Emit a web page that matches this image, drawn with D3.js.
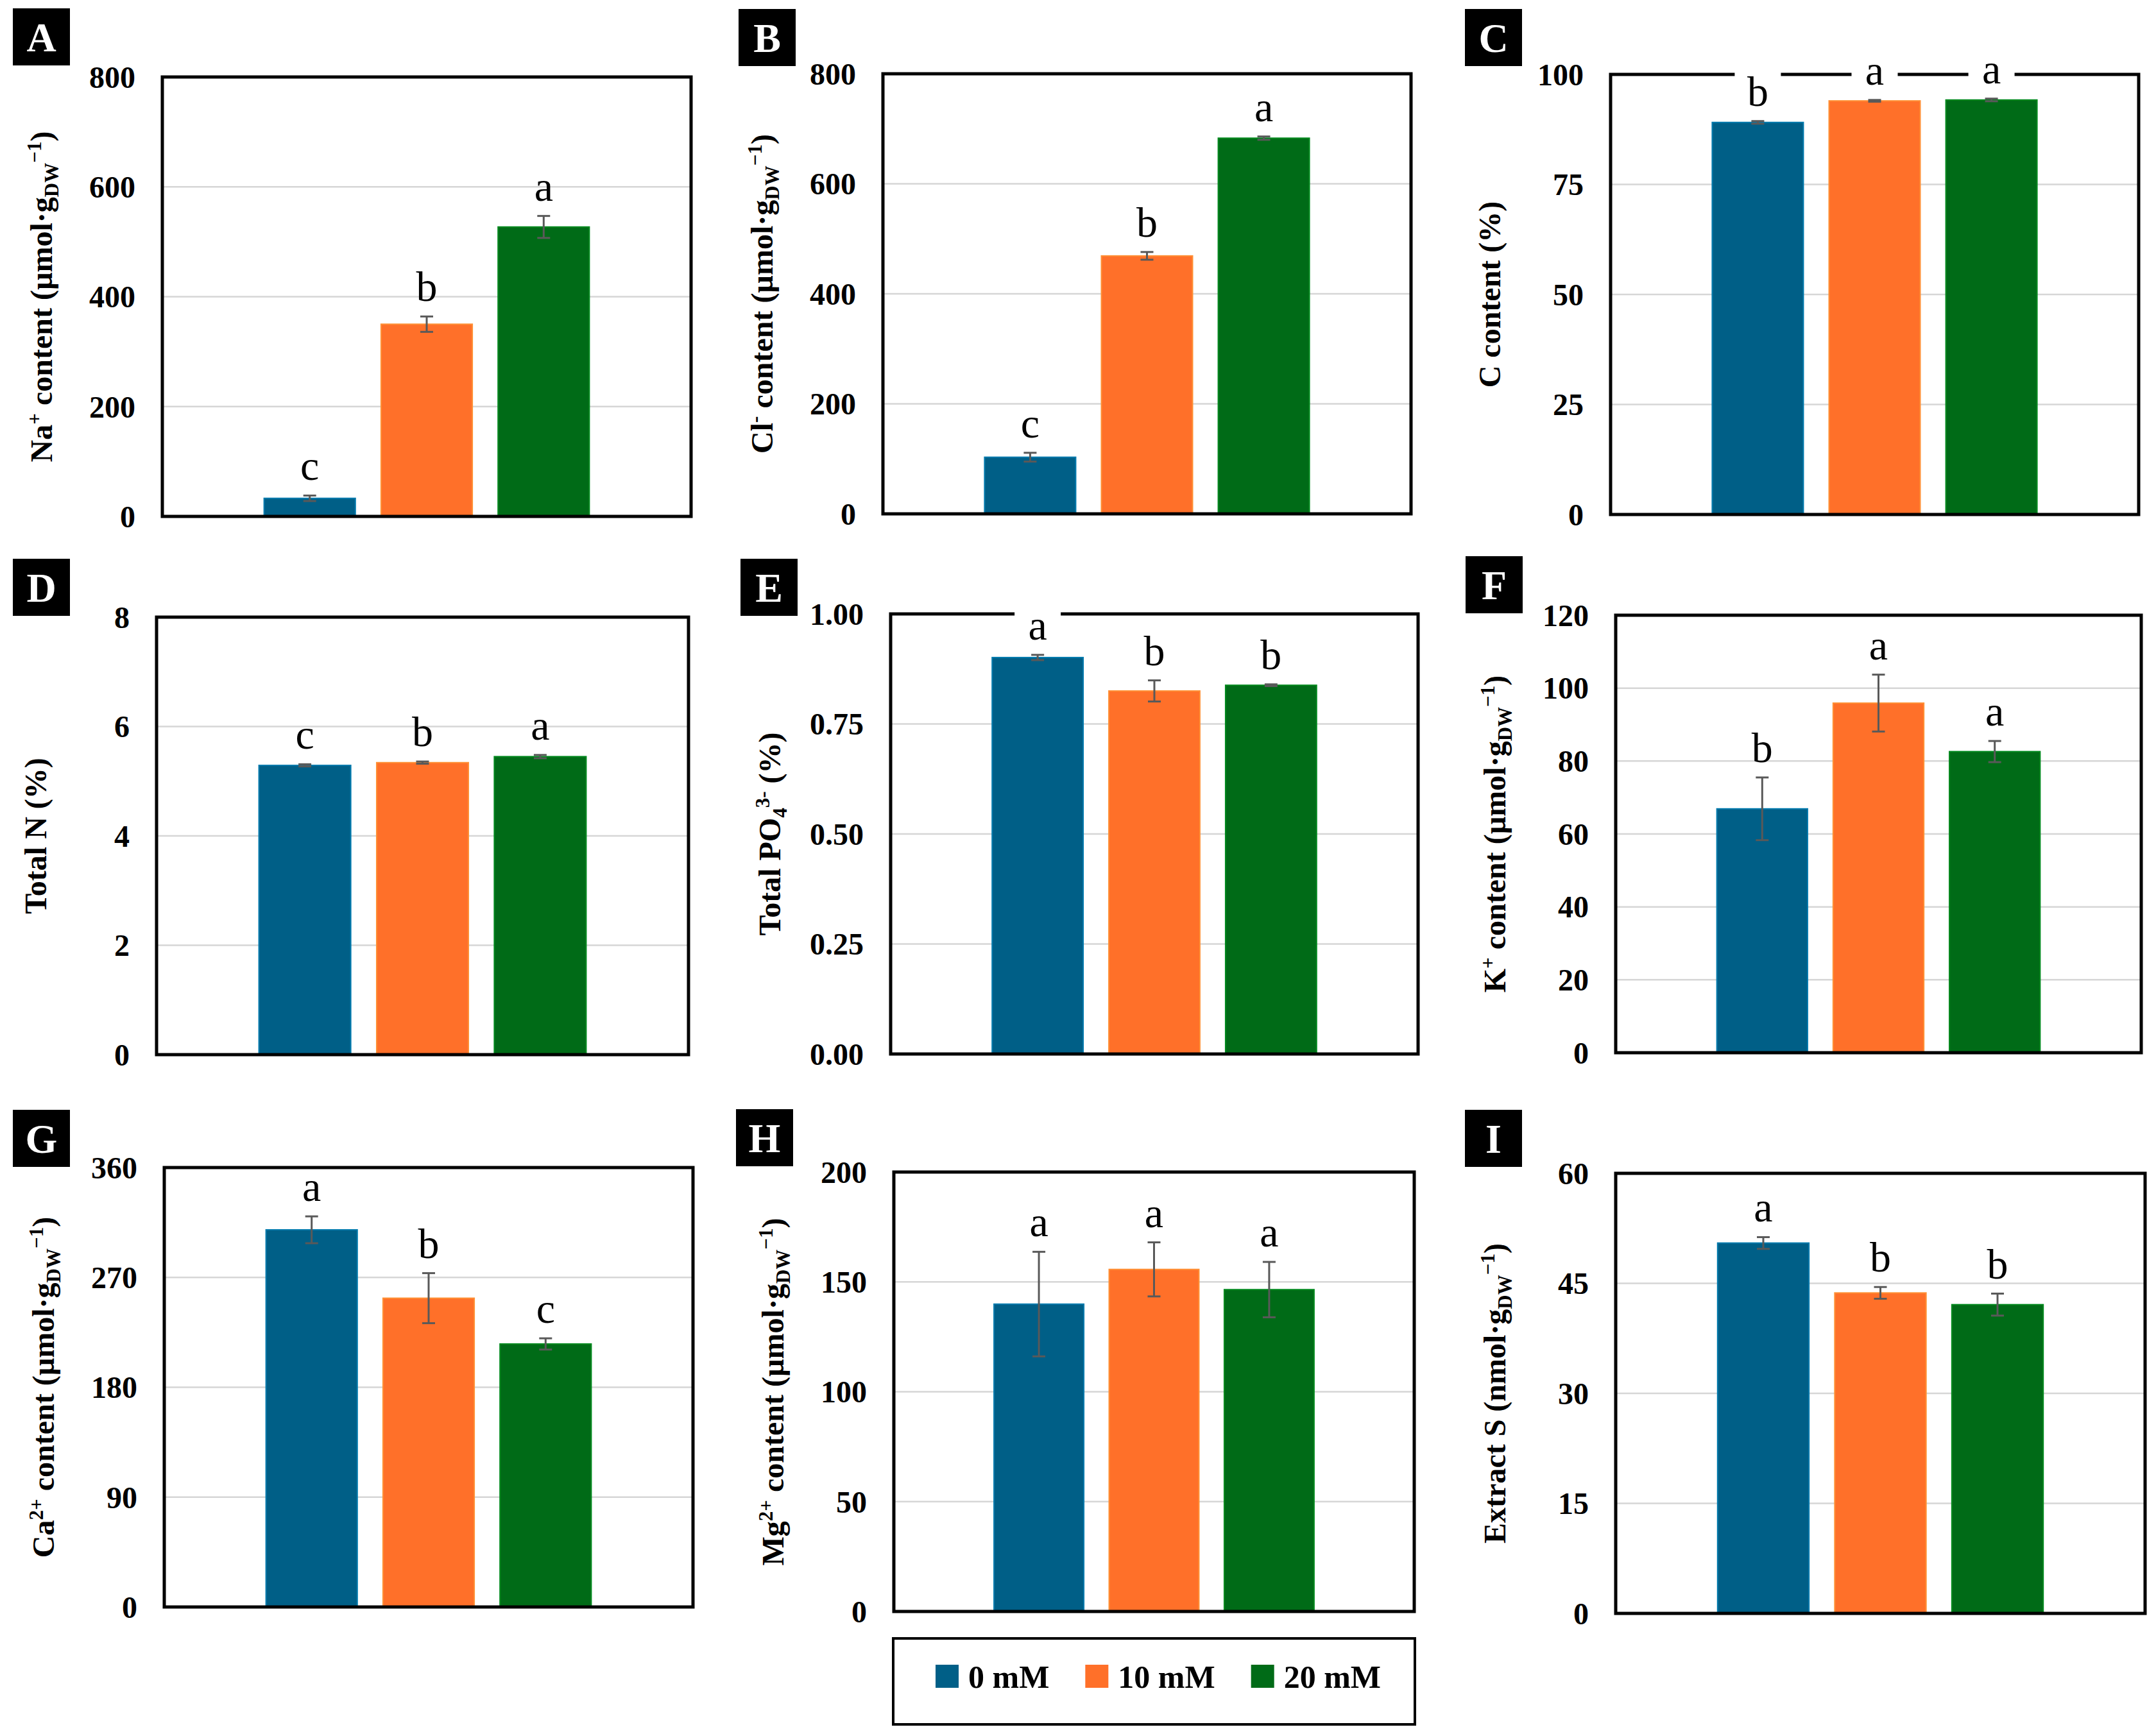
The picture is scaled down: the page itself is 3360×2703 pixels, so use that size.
<!DOCTYPE html>
<html>
<head>
<meta charset="utf-8">
<script src="https://cdn.jsdelivr.net/npm/d3@7"></script>
<style>
  body { margin: 0; background: #fff; }
  svg { display: block; }
</style>
</head>
<body>
<script>
// treatments
var series = ["0 mM", "10 mM", "20 mM"];
var colors = ["#005f87", "#ff7029", "#006b17"];

// means and error bars
var naMean = [33, 350, 527],        naErr = [5, 14, 20],        naLetters = ["c", "b", "a"];
var clMean = [103, 469, 683],       clErr = [8, 7, 3],          clLetters = ["c", "b", "a"];
var cMean  = [89.1, 94.0, 94.2],    cErr  = [0.3, 0.2, 0.3],    cLetters  = ["b", "a", "a"];
var nMean  = [5.29, 5.34, 5.45],    nErr  = [0.02, 0.02, 0.03], nLetters  = ["c", "b", "a"];
var pMean  = [0.901, 0.825, 0.838], pErr  = [0.006, 0.024, 0.002], pLetters = ["a", "b", "b"];
var kMean  = [66.9, 95.9, 82.6],    kErr  = [8.6, 7.8, 2.9],    kLetters  = ["b", "a", "a"];
var caMean = [309, 253, 215.5],     caErr = [11, 20.5, 4.6],    caLetters = ["a", "b", "c"];
var mgMean = [139.9, 155.7, 146.5], mgErr = [23.8, 12.3, 12.6], mgLetters = ["a", "a", "a"];
var sMean  = [50.5, 43.7, 42.1],    sErr  = [0.8, 0.8, 1.5],    sLetters  = ["a", "b", "b"];

// y axis ticks
var naTicks = [0, 200, 400, 600, 800];
var clTicks = [0, 200, 400, 600, 800];
var cTicks  = [0, 25, 50, 75, 100];
var nTicks  = [0, 2, 4, 6, 8];
var pTicks  = [0, 0.25, 0.5, 0.75, 1];
var kTicks  = [0, 20, 40, 60, 80, 100, 120];
var caTicks = [0, 90, 180, 270, 360];
var mgTicks = [0, 50, 100, 150, 200];
var sTicks  = [0, 15, 30, 45, 60];

// axis titles: [text, "n" normal | "sup" | "sub"]
var unitTail = [[" content (µmol·g", "n"], ["DW", "sub"], ["−1", "sup"], [")", "n"]];
var naTitle = [["Na", "n"], ["+", "sup"]].concat(unitTail);
var clTitle = [["Cl", "n"], ["-", "sup"]].concat(unitTail);
var cTitle  = [["C content (%)", "n"]];
var nTitle  = [["Total N (%)", "n"]];
var pTitle  = [["Total PO", "n"], ["4", "sub"], ["3-", "sup"], [" (%)", "n"]];
var kTitle  = [["K", "n"], ["+", "sup"]].concat(unitTail);
var caTitle = [["Ca", "n"], ["2+", "sup"]].concat(unitTail);
var mgTitle = [["Mg", "n"], ["2+", "sup"]].concat(unitTail);
var sTitle  = [["Extract S (nmol·g", "n"], ["DW", "sub"], ["−1", "sup"], [")", "n"]];

var panels = [
  {tag: "A", mean: naMean, err: naErr, letters: naLetters, ticks: naTicks, fmt: "d",   title: naTitle},
  {tag: "B", mean: clMean, err: clErr, letters: clLetters, ticks: clTicks, fmt: "d",   title: clTitle},
  {tag: "C", mean: cMean,  err: cErr,  letters: cLetters,  ticks: cTicks,  fmt: "d",   title: cTitle},
  {tag: "D", mean: nMean,  err: nErr,  letters: nLetters,  ticks: nTicks,  fmt: "d",   title: nTitle},
  {tag: "E", mean: pMean,  err: pErr,  letters: pLetters,  ticks: pTicks,  fmt: ".2f", title: pTitle},
  {tag: "F", mean: kMean,  err: kErr,  letters: kLetters,  ticks: kTicks,  fmt: "d",   title: kTitle},
  {tag: "G", mean: caMean, err: caErr, letters: caLetters, ticks: caTicks, fmt: "d",   title: caTitle},
  {tag: "H", mean: mgMean, err: mgErr, letters: mgLetters, ticks: mgTicks, fmt: "d",   title: mgTitle},
  {tag: "I", mean: sMean,  err: sErr,  letters: sLetters,  ticks: sTicks,  fmt: "d",   title: sTitle}
];

// plot frames [x0, x1, y0, y1] and tag boxes [x, y]
var frames = [
  [253, 1077, 120, 805], [1376, 2199, 115, 801], [2510, 3333, 116, 802],
  [244, 1073, 962, 1644], [1388, 2210, 957, 1643], [2518, 3337, 959, 1641],
  [256, 1080, 1820, 2505], [1393, 2204, 1827, 2512], [2518, 3343, 1829, 2515]
];
var tagBoxes = [
  [20, 13], [1151, 14], [2283, 14],
  [20, 871], [1154, 871], [2284, 867],
  [20, 1730], [1147, 1729], [2283, 1730]
];

var W = 3360, H = 2703;
var serif = "'Liberation Serif', 'Times New Roman', serif";

var svg = d3.select("body").append("svg")
    .attr("width", W)
    .attr("height", H)
    .style("font-family", serif);

svg.append("rect").attr("width", W).attr("height", H).attr("fill", "#fff");

panels.forEach(function(p, i) {
  var f = frames[i];
  var x0 = f[0], x1 = f[1], y0 = f[2], y1 = f[3];
  var g = svg.append("g");

  var x = d3.scaleBand()
      .domain(series)
      .range([x0, x1])
      .paddingInner(0.22)
      .paddingOuter(0.87);

  var y = d3.scaleLinear()
      .domain([0, d3.max(p.ticks)])
      .range([y1, y0]);

  // gridlines
  g.selectAll(".grid")
    .data(p.ticks.slice(1, -1))
    .enter().append("line")
      .attr("x1", x0).attr("x2", x1)
      .attr("y1", function(d) { return y(d); })
      .attr("y2", function(d) { return y(d); })
      .attr("stroke", "#d6d6d6")
      .attr("stroke-width", 2.5);

  // bars
  g.selectAll(".bar")
    .data(p.mean)
    .enter().append("rect")
      .attr("x", function(d, j) { return x(series[j]); })
      .attr("y", function(d) { return y(d); })
      .attr("width", x.bandwidth())
      .attr("height", function(d) { return y(0) - y(d); })
      .attr("fill", function(d, j) { return colors[j]; })
      .attr("stroke", function(d, j) { return d3.color(colors[j]).brighter(0.7); })
      .attr("stroke-width", 2);

  // error bars
  var cx = function(j) { return x(series[j]) + x.bandwidth() / 2; };
  var eb = g.selectAll(".err")
    .data(p.mean)
    .enter().append("g")
      .attr("stroke", "#595959")
      .attr("stroke-width", 3);
  eb.append("line")
    .attr("x1", function(d, j) { return cx(j); })
    .attr("x2", function(d, j) { return cx(j); })
    .attr("y1", function(d, j) { return y(d - p.err[j]); })
    .attr("y2", function(d, j) { return y(d + p.err[j]); });
  [-1, 1].forEach(function(s) {
    eb.append("line")
      .attr("x1", function(d, j) { return cx(j) - 10; })
      .attr("x2", function(d, j) { return cx(j) + 10; })
      .attr("y1", function(d, j) { return y(d + s * p.err[j]); })
      .attr("y2", function(d, j) { return y(d + s * p.err[j]); });
  });

  // frame
  g.append("rect")
    .attr("x", x0).attr("y", y0)
    .attr("width", x1 - x0).attr("height", y1 - y0)
    .attr("fill", "none")
    .attr("stroke", "#000")
    .attr("stroke-width", 5);

  // y tick labels
  var fmt = d3.format(p.fmt);
  g.selectAll(".tick")
    .data(p.ticks)
    .enter().append("text")
      .attr("x", x0 - 42)
      .attr("y", function(d) { return y(d); })
      .attr("dy", "0.35em")
      .attr("text-anchor", "end")
      .attr("font-weight", "bold")
      .attr("font-size", 48)
      .text(function(d) { return fmt(d); });

  // y axis title
  var t = g.append("text")
    .attr("transform", "translate(" + (x0 - 172) + "," + ((y0 + y1) / 2) + ") rotate(-90)")
    .attr("text-anchor", "middle")
    .attr("font-weight", "bold")
    .attr("font-size", 48);
  var shift = 0;
  p.title.forEach(function(seg) {
    var target = seg[1] === "sup" ? -17 : seg[1] === "sub" ? 10 : 0;
    t.append("tspan")
      .attr("dy", target - shift)
      .attr("font-size", seg[1] === "n" ? 48 : 31)
      .text(seg[0]);
    shift = target;
  });

  // significance letters (white box only where a letter runs into the frame top)
  p.letters.forEach(function(l, j) {
    var base = y(p.mean[j] + p.err[j]) - 24;
    var glyphTop = base - (l === "b" ? 46 : 31);
    if (glyphTop < y0 + 12) {
      g.append("rect")
        .attr("x", cx(j) - 36).attr("y", base - 58)
        .attr("width", 72).attr("height", 70)
        .attr("fill", "#fff");
    }
    g.append("text")
      .attr("x", cx(j))
      .attr("y", base)
      .attr("text-anchor", "middle")
      .attr("font-size", 66)
      .text(l);
  });

  // panel tag
  var b = tagBoxes[i];
  svg.append("rect")
    .attr("x", b[0]).attr("y", b[1])
    .attr("width", 89).attr("height", 89)
    .attr("fill", "#000");
  svg.append("text")
    .attr("x", b[0] + 44.5)
    .attr("y", b[1] + 67)
    .attr("text-anchor", "middle")
    .attr("font-weight", "bold")
    .attr("font-size", 64)
    .attr("fill", "#fff")
    .text(p.tag);
});

// legend
var legend = svg.append("g");
legend.append("rect")
  .attr("x", 1392).attr("y", 2554)
  .attr("width", 813).attr("height", 134)
  .attr("fill", "#fff")
  .attr("stroke", "#000")
  .attr("stroke-width", 4);

var lx = 1458;
series.forEach(function(s, j) {
  legend.append("rect")
    .attr("x", lx).attr("y", 2595)
    .attr("width", 36).attr("height", 36)
    .attr("fill", colors[j]);
  var txt = legend.append("text")
    .attr("x", lx + 51)
    .attr("y", 2631)
    .attr("font-weight", "bold")
    .attr("font-size", 50)
    .text(s);
  lx += 51 + txt.node().getComputedTextLength() + 56;
});
</script>
</body>
</html>
